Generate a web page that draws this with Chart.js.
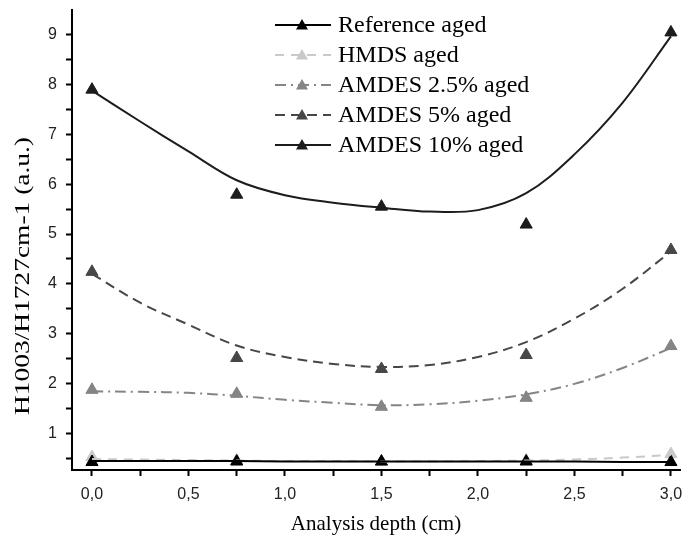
<!DOCTYPE html>
<html>
<head>
<meta charset="utf-8">
<script src="https://cdn.jsdelivr.net/npm/chart.js@4.4.1/dist/chart.umd.min.js"></script>
<style>
  html, body { margin: 0; padding: 0; background: #fff; }
  #wrap { width: 688px; height: 544px; position: relative; }
</style>
</head>
<body>
<div id="wrap"><canvas id="chart" width="688" height="544"></canvas></div>
<script>
// measured points (triangles)
const depths = [0, 0.75, 1.5, 2.25, 3.0];
const refAged = [0.42, 0.43, 0.43, 0.43, 0.42];
const hmdsAged = [0.52, 0.45, 0.42, 0.45, 0.58];
const amdes25Aged = [1.87, 1.79, 1.53, 1.71, 2.75];
const amdes5Aged = [4.24, 2.51, 2.29, 2.57, 4.68];
const amdes10Aged = [7.90, 5.79, 5.55, 5.19, 9.05];

// fitted curves
const fitDepths = [0, 0.25, 0.5, 0.75, 1.0, 1.25, 1.5, 1.75, 2.0, 2.25, 2.5, 2.75, 3.0];
const refFit = [0.44, 0.44, 0.44, 0.44, 0.43, 0.43, 0.43, 0.43, 0.43, 0.43, 0.43, 0.42, 0.42];
const hmdsFit = [0.48, 0.47, 0.46, 0.45, 0.44, 0.44, 0.43, 0.43, 0.44, 0.45, 0.47, 0.51, 0.56];
const amdes25Fit = [1.84, 1.83, 1.81, 1.75, 1.67, 1.61, 1.56, 1.58, 1.65, 1.78, 1.99, 2.31, 2.71];
const amdes5Fit = [4.20, 3.62, 3.18, 2.76, 2.53, 2.39, 2.33, 2.37, 2.53, 2.83, 3.30, 3.90, 4.65];
const amdes10Fit = [7.88, 7.26, 6.66, 6.08, 5.78, 5.63, 5.53, 5.45, 5.48, 5.82, 6.60, 7.64, 8.97];

const xMajorTicks = [0, 0.5, 1.0, 1.5, 2.0, 2.5, 3.0];
const xMinorTicks = [0.25, 0.75, 1.25, 1.75, 2.25, 2.75];
const yMajorTicks = [1, 2, 3, 4, 5, 6, 7, 8, 9];
const yMinorTicks = [0.5, 1.5, 2.5, 3.5, 4.5, 5.5, 6.5, 7.5, 8.5];

const seriesNames = ['Reference aged', 'HMDS aged', 'AMDES 2.5% aged', 'AMDES 5% aged', 'AMDES 10% aged'];

const series = [
  { name: seriesNames[0], pts: refAged, fit: refFit, color: '#000000', dash: [] },
  { name: seriesNames[1], pts: hmdsAged, fit: hmdsFit, color: '#c9c9c9', dash: [9, 7] },
  { name: seriesNames[2], pts: amdes25Aged, fit: amdes25Fit, color: '#858585', dash: [11, 5, 2, 5] },
  { name: seriesNames[3], pts: amdes5Aged, fit: amdes5Fit, color: '#474747', dash: [10, 6] },
  { name: seriesNames[4], pts: amdes10Aged, fit: amdes10Fit, color: '#1c1c1c', dash: [] }
];

const datasets = [];
series.forEach(s => {
  datasets.push({
    label: s.name + ' fit',
    data: fitDepths.map((x, i) => ({ x: x, y: s.fit[i] })),
    showLine: true,
    borderColor: s.color,
    borderWidth: 2,
    borderDash: s.dash,
    pointRadius: 0,
    tension: 0.35
  });
});
series.forEach(s => {
  datasets.push({
    label: s.name,
    data: depths.map((x, i) => ({ x: x, y: s.pts[i] })),
    showLine: false,
    pointStyle: 'triangle',
    pointRadius: 7,
    backgroundColor: s.color,
    borderColor: s.color,
    borderWidth: 1
  });
});

function fmtComma(v) {
  return v.toFixed(1).replace('.', ',');
}

// legend box + rotated y title
const overlay = {
  id: 'overlay',
  afterDraw(chart) {
    const ctx = chart.ctx;
    ctx.save();
    const rowY = [25, 55, 85, 115, 145];
    series.forEach((s, i) => {
      const y = rowY[i];
      ctx.strokeStyle = s.color;
      ctx.lineWidth = 2;
      ctx.setLineDash(s.dash);
      ctx.beginPath();
      ctx.moveTo(275, y);
      ctx.lineTo(331, y);
      ctx.stroke();
      ctx.setLineDash([]);
      ctx.fillStyle = s.color;
      ctx.beginPath();
      ctx.moveTo(302, y - 6);
      ctx.lineTo(308, y + 4.5);
      ctx.lineTo(296, y + 4.5);
      ctx.closePath();
      ctx.fill();
      ctx.fillStyle = '#000';
      ctx.font = '24px "Liberation Serif"';
      ctx.textBaseline = 'middle';
      ctx.textAlign = 'left';
      ctx.fillText(s.name, 338, y + 1);
    });

    // y axis title, stretched to the length seen in the reference
    const title = 'H1003/H1727cm-1 (a.u.)';
    ctx.font = '21px "Liberation Serif"';
    const w = ctx.measureText(title).width;
    ctx.translate(23, 276);
    ctx.rotate(-Math.PI / 2);
    ctx.scale(278 / w, 1);
    ctx.textAlign = 'center';
    ctx.textBaseline = 'middle';
    ctx.fillStyle = '#000';
    ctx.fillText(title, 0, 0);
    ctx.restore();
  }
};

new Chart(document.getElementById('chart'), {
  type: 'scatter',
  data: { datasets: datasets },
  options: {
    responsive: false,
    animation: false,
    layout: { padding: { top: 10, right: 0, left: 0, bottom: 0 } },
    plugins: {
      legend: { display: false },
      tooltip: { enabled: false }
    },
    scales: {
      x: {
        type: 'linear',
        min: -0.1035,
        max: 3.047,
        afterBuildTicks: scale => {
          scale.ticks = xMajorTicks.concat(xMinorTicks).sort((a, b) => a - b).map(v => ({ value: v }));
        },
        afterFit: scale => {
          scale.height = 74;
          scale.paddingLeft = 0;
          scale.paddingRight = 0;
        },
        ticks: {
          autoSkip: false,
          maxRotation: 0,
          padding: 9,
          color: '#222',
          font: { family: '"Liberation Sans"', size: 16 },
          callback: v => xMajorTicks.includes(v) ? fmtComma(v) : ''
        },
        grid: { drawOnChartArea: false, tickLength: 6, tickColor: '#000', tickWidth: 2 },
        border: { color: '#000', width: 2 },
        title: {
          display: true,
          text: 'Analysis depth (cm)',
          color: '#000',
          font: { family: '"Liberation Serif"', size: 21 },
          padding: { top: 0, bottom: 7 }
        }
      },
      y: {
        min: 0.26,
        max: 9.5,
        afterBuildTicks: scale => {
          scale.ticks = yMajorTicks.concat(yMinorTicks).sort((a, b) => a - b).map(v => ({ value: v }));
        },
        afterFit: scale => {
          scale.width = 72;
          scale.paddingTop = 0;
          scale.paddingBottom = 0;
        },
        ticks: {
          autoSkip: false,
          padding: 9,
          color: '#222',
          font: { family: '"Liberation Sans"', size: 16 },
          callback: v => yMajorTicks.includes(v) ? String(v) : ''
        },
        grid: { drawOnChartArea: false, tickLength: 6, tickColor: '#000', tickWidth: 2 },
        border: { color: '#000', width: 2 },
        title: { display: false }
      }
    }
  },
  plugins: [overlay]
});
</script>
</body>
</html>
